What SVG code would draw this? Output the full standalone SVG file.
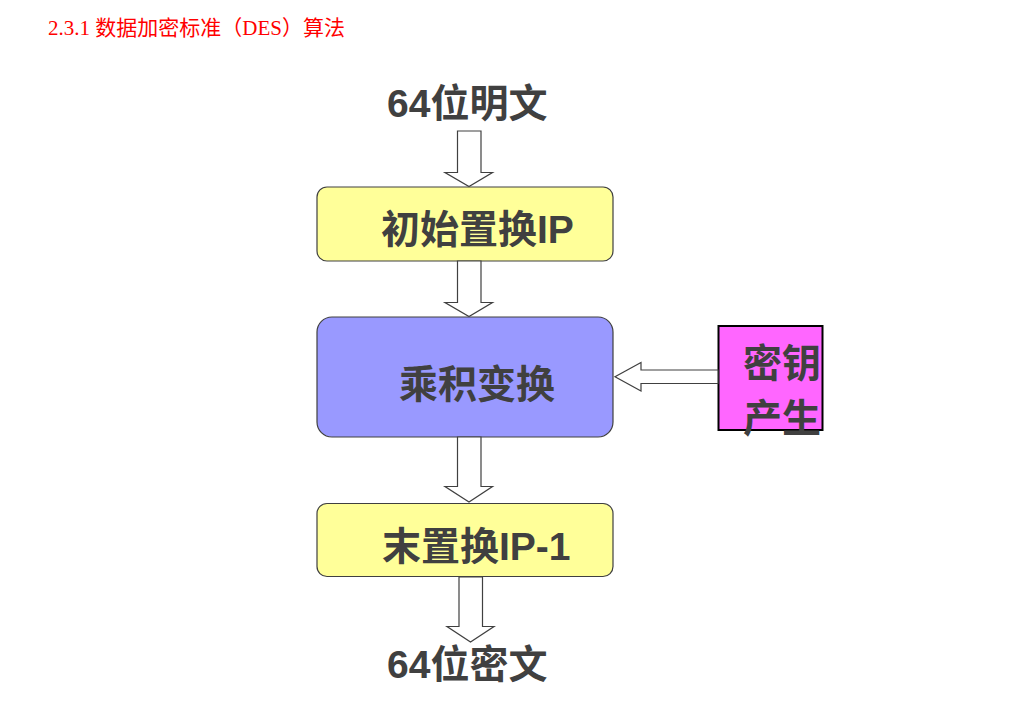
<svg xmlns="http://www.w3.org/2000/svg" width="1023" height="709" viewBox="0 0 1023 709">
<style>
.lbl{font-family:"Liberation Sans","Noto Sans CJK SC",sans-serif;font-weight:bold;font-size:39px;fill:#404040}
.title{font-family:"Liberation Serif","Noto Sans CJK SC",serif;font-size:21px;fill:#ff0000}
.arr{fill:#ffffff;stroke:#404040;stroke-width:1.2}
.box{stroke:#404040;stroke-width:1.2}
</style>
<rect width="1023" height="709" fill="#ffffff"/>
<text class="title" x="48" y="35">2.3.1 数据加密标准（DES）算法</text>
<g id="plaintext"><text class="lbl" x="387" y="117">64位明文</text></g>
<g id="ip"><rect class="box" x="317" y="187" width="296" height="74" rx="10" fill="#ffff99"/><text class="lbl" x="381" y="243">初始置换IP</text></g>
<g id="product"><rect class="box" x="317" y="317" width="296" height="120" rx="15" fill="#9999ff"/><text class="lbl" x="399" y="398">乘积变换</text></g>
<g id="keygen"><rect x="718.5" y="326" width="104" height="104" fill="#ff66ff" stroke="#000000" stroke-width="2"/><text class="lbl" x="743" y="377">密钥</text><text class="lbl" x="743" y="432">产生</text></g>
<g id="ipinv"><rect class="box" x="317" y="503.5" width="296" height="73" rx="10" fill="#ffff99"/><text class="lbl" x="382" y="560">末置换IP-1</text></g>
<g id="ciphertext"><text class="lbl" x="387" y="678">64位密文</text></g>
<g id="connectors">
<path class="arr" d="M457.5,131 H481 V172.5 H492.5 L469,186.5 L445,172.5 H457.5 Z"/>
<path class="arr" d="M457.5,261 H481 V302.5 H492.5 L469,316.5 L445,302.5 H457.5 Z"/>
<path class="arr" d="M457.5,437 H481 V486.5 H492.5 L469,502 L445,486.5 H457.5 Z"/>
<path class="arr" d="M459,577 H482.5 V626.5 H494 L470.5,642 L447,626.5 H459 Z"/>
<path class="arr" d="M718,370 V383.5 H641 V391 L615,376.7 L641,362.5 V370 Z"/>
</g>
</svg>
